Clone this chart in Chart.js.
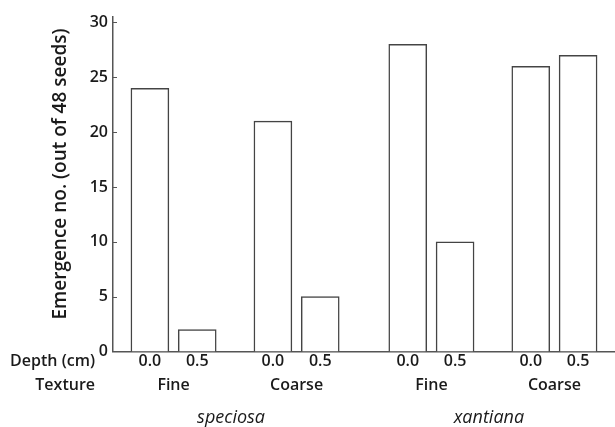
<!DOCTYPE html>
<html>
<head>
<meta charset="utf-8">
<script src="https://cdn.jsdelivr.net/npm/chart.js@4"></script>
<style>
  html, body { margin: 0; padding: 0; background: #fff; }
  #wrap { width: 615px; height: 427px; position: relative; }
</style>
</head>
<body>
<div id="wrap"><canvas id="c" width="615" height="427"></canvas></div>
<script>
// ---- data ----
const species = ['speciosa', 'xantiana'];
const textures = ['Fine', 'Coarse'];
const depths = ['0.0', '0.5'];
const speciosaFine = [24, 2];
const speciosaCoarse = [21, 5];
const xantianaFine = [28, 10];
const xantianaCoarse = [26, 27];
const yTicks = [0, 5, 10, 15, 20, 25, 30];
const yTitle = 'Emergence no. (out of 48 seeds)';
const depthLabel = 'Depth (cm)';
const textureLabel = 'Texture';

// ---- layout (axis units) ----
const DEPTH_STEP = 1, TEXTURE_STEP = 2.6, SPECIES_STEP = 5.45;
const valuesBy = [[speciosaFine, speciosaCoarse], [xantianaFine, xantianaCoarse]];
const points = [], depthTickPos = [], depthTickText = [];
const textureCenters = [], speciesCenters = [];
species.forEach((sp, s) => {
  const spPos = [];
  textures.forEach((tx, t) => {
    const txPos = [];
    depths.forEach((d, k) => {
      const x = s * SPECIES_STEP + t * TEXTURE_STEP + k * DEPTH_STEP;
      points.push({ x: x, y: valuesBy[s][t][k] });
      depthTickPos.push(x); depthTickText.push(d);
      txPos.push(x); spPos.push(x);
    });
    textureCenters.push({ x: (txPos[0] + txPos[txPos.length - 1]) / 2, label: tx });
  });
  speciesCenters.push({ x: (spPos[0] + spPos[spPos.length - 1]) / 2, label: sp });
});

const FONT = '"Open Sans", "DejaVu Sans", sans-serif';
const TEXT = '#1a1a1a';
const AXIS = '#555555';

const labelsPlugin = {
  id: 'labelsPlugin',
  afterDraw(chart) {
    const ctx = chart.ctx, xs = chart.scales.x, ys = chart.scales.y;
    const area = chart.chartArea;
    ctx.save();
    // inward y ticks
    ctx.strokeStyle = AXIS; ctx.lineWidth = 1;
    yTicks.forEach(v => {
      if (v === 0) return;
      const py = Math.round(ys.getPixelForValue(v)) + 0.5;
      ctx.beginPath(); ctx.moveTo(area.left, py); ctx.lineTo(area.left + 4, py); ctx.stroke();
    });
    ctx.fillStyle = TEXT;
    ctx.textBaseline = 'middle';
    // left row labels
    ctx.font = '600 16px ' + FONT;
    ctx.textAlign = 'right';
    ctx.fillText(depthLabel, 95, 361);
    ctx.fillText(textureLabel, 95, 385);
    // texture labels
    ctx.textAlign = 'center';
    textureCenters.forEach(t => ctx.fillText(t.label, xs.getPixelForValue(t.x), 385));
    // species labels
    ctx.font = 'italic 18px ' + FONT;
    speciesCenters.forEach(s => ctx.fillText(s.label, xs.getPixelForValue(s.x) - 4, 418));
    // y title
    ctx.font = '600 19px ' + FONT;
    ctx.translate(61, 174);
    ctx.rotate(-Math.PI / 2);
    ctx.fillText(yTitle, 0, 0);
    ctx.restore();
  }
};

new Chart(document.getElementById('c'), {
  type: 'bar',
  data: {
    datasets: [{
      data: points,
      backgroundColor: '#ffffff',
      borderColor: '#444444',
      borderWidth: 1.5,
      barThickness: 38
    }]
  },
  options: {
    responsive: false,
    animation: false,
    layout: { padding: { top: 17, left: 0, right: 0, bottom: 0 } },
    plugins: { legend: { display: false }, tooltip: { enabled: false } },
    scales: {
      x: {
        type: 'linear',
        offset: false,
        min: -0.78,
        max: 9.83,
        grid: { display: false, drawTicks: false },
        border: { display: true, color: AXIS, width: 1.5 },
        afterBuildTicks: (sc) => { sc.ticks = depthTickPos.map(v => ({ value: v })); },
        afterFit: (sc) => { sc.height = 75.5; },
        ticks: {
          autoSkip: false,
          maxRotation: 0,
          padding: 0,
          color: TEXT,
          font: { family: FONT, size: 16, weight: '600' },
          callback: (v, i) => depthTickText[i]
        }
      },
      y: {
        min: 0,
        max: 30.5,
        grid: { display: false, drawTicks: false },
        border: { display: true, color: AXIS, width: 1.5 },
        afterBuildTicks: (sc) => { sc.ticks = yTicks.map(v => ({ value: v })); },
        afterFit: (sc) => { sc.width = 113; },
        ticks: {
          padding: 5,
          color: TEXT,
          font: { family: FONT, size: 16, weight: '600' }
        }
      }
    }
  },
  plugins: [labelsPlugin]
});
</script>
</body>
</html>
